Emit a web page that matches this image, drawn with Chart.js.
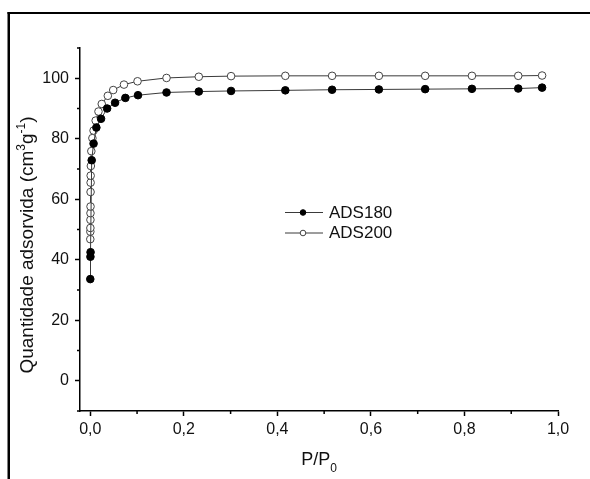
<!DOCTYPE html>
<html>
<head>
<meta charset="utf-8">
<script src="https://cdn.jsdelivr.net/npm/chart.js@4.4.0/dist/chart.umd.min.js"></script>
<style>
  html, body { margin: 0; padding: 0; background: #fff; }
  #wrap { width: 590px; height: 479px; }
</style>
</head>
<body>
<div id="wrap"><canvas id="isoterma" width="590" height="479"></canvas></div>
<script>
'use strict';

// --- Isotherm data: relative pressure P/P0 and adsorbed amount (cm3 g-1) ---
const ads180P = [0.0000, 0.0003, 0.0006, 0.0030, 0.0070, 0.0130, 0.0230, 0.0360, 0.0530, 0.0750,
                 0.1020, 0.1630, 0.2320, 0.3010, 0.4170, 0.5170, 0.6170, 0.7160, 0.8160, 0.9150, 0.9660];
const ads180Q = [33.6, 41.0, 42.5, 72.9, 78.4, 83.7, 86.6, 90.0, 91.9, 93.5,
                 94.4, 95.3, 95.6, 95.8, 96.0, 96.2, 96.3, 96.4, 96.5, 96.6, 96.9];

const ads200P = [0.0000, 0.0001, 0.0002, 0.0003, 0.0004, 0.0005, 0.0006, 0.0007, 0.0008, 0.0012,
                 0.0022, 0.0045, 0.0070, 0.0115, 0.0175, 0.0245, 0.0375, 0.0490, 0.0720, 0.1010,
                 0.1630, 0.2320, 0.3010, 0.4170, 0.5170, 0.6170, 0.7160, 0.8160, 0.9150, 0.9660];
const ads200Q = [46.8, 49.3, 50.5, 53.2, 55.4, 57.6, 62.4, 65.5, 67.8, 71.0,
                 75.9, 80.2, 82.7, 86.0, 89.0, 91.5, 94.2, 96.1, 97.9, 99.0,
                 100.1, 100.5, 100.7, 100.8, 100.8, 100.8, 100.8, 100.8, 100.8, 100.9];

const seriesNames = ['ADS180', 'ADS200'];

// Labelled (major) ticks and the short unlabelled ones between them
const xMajorTicks = [0, 0.2, 0.4, 0.6, 0.8, 1.0];
const xMinorTicks = [0.1, 0.3, 0.5, 0.7, 0.9];
const yMajorTicks = [0, 20, 40, 60, 80, 100];
const yMinorTicks = [-10, 10, 30, 50, 70, 90, 110];

const FONT = '"Liberation Sans", Arial, Helvetica, sans-serif';
const INK = '#111';

const toPoints = (xs, ys) => xs.map((x, i) => ({ x: x, y: ys[i] }));

// Draws a run of text pieces (for super/subscripts) centred on cx
function drawRuns(ctx, runs, cx, baseline) {
    let total = 0;
    runs.forEach(r => {
        ctx.font = r.size + 'px ' + FONT;
        r.w = ctx.measureText(r.text).width;
        total += r.w;
    });
    let x = cx - total / 2;
    runs.forEach(r => {
        ctx.font = r.size + 'px ' + FONT;
        ctx.fillText(r.text, x, baseline + (r.shift || 0));
        x += r.w;
    });
}

// Frame lines, minor ticks, axis titles and the inline legend
const decorations = {
    id: 'decorations',
    beforeDraw(chart) {
        const ctx = chart.ctx;
        ctx.save();
        ctx.fillStyle = '#fff';
        ctx.fillRect(0, 0, chart.width, chart.height);
        ctx.fillStyle = '#000';
        ctx.fillRect(7.5, 12, 2.5, chart.height - 12);
        ctx.fillRect(7.5, 12, chart.width - 7.5, 2);
        ctx.restore();
    },
    afterDraw(chart) {
        const { ctx, chartArea, scales } = chart;
        ctx.save();

        // minor ticks
        ctx.strokeStyle = '#000';
        ctx.lineWidth = 1.5;
        ctx.beginPath();
        xMinorTicks.forEach(v => {
            const px = scales.x.getPixelForValue(v);
            ctx.moveTo(px, chartArea.bottom);
            ctx.lineTo(px, chartArea.bottom + 3);
        });
        yMinorTicks.forEach(v => {
            const py = scales.y.getPixelForValue(v);
            ctx.moveTo(chartArea.left, py);
            ctx.lineTo(chartArea.left - 3, py);
        });
        ctx.stroke();

        // axis titles
        ctx.fillStyle = INK;
        ctx.textBaseline = 'alphabetic';
        ctx.textAlign = 'left';
        drawRuns(ctx, [
            { text: 'P/P', size: 18 },
            { text: '0', size: 12, shift: 7 }
        ], (chartArea.left + chartArea.right) / 2, 465);

        ctx.save();
        ctx.translate(33, 245);
        ctx.rotate(-Math.PI / 2);
        drawRuns(ctx, [
            { text: 'Quantidade adsorvida (cm', size: 19 },
            { text: '3', size: 12, shift: -8 },
            { text: 'g', size: 19 },
            { text: '-1', size: 12, shift: -8 },
            { text: ')', size: 19 }
        ], 0, 0);
        ctx.restore();

        // legend: short line with the series marker, then its name
        const rows = [212.5, 233];
        chart.data.datasets.forEach((ds, i) => {
            const y = rows[i];
            ctx.strokeStyle = ds.borderColor;
            ctx.lineWidth = 1;
            ctx.beginPath();
            ctx.moveTo(285, y);
            ctx.lineTo(323, y);
            ctx.stroke();
            ctx.beginPath();
            ctx.arc(303, y, 2.8, 0, Math.PI * 2);
            ctx.fillStyle = ds.pointBackgroundColor;
            ctx.fill();
            ctx.strokeStyle = ds.pointBorderColor;
            ctx.stroke();
            ctx.fillStyle = INK;
            ctx.font = '17px ' + FONT;
            ctx.textBaseline = 'middle';
            ctx.fillText(ds.label, 329, y + 0.5);
        });
        ctx.restore();
    }
};

const ctx = document.getElementById('isoterma').getContext('2d');

new Chart(ctx, {
    type: 'scatter',
    data: {
        datasets: [
            {
                label: seriesNames[0],
                data: toPoints(ads180P, ads180Q),
                showLine: true,
                borderColor: '#3a3a3a',
                borderWidth: 1,
                pointRadius: 3.8,
                pointBackgroundColor: '#000',
                pointBorderColor: '#000',
                pointBorderWidth: 1
            },
            {
                label: seriesNames[1],
                data: toPoints(ads200P, ads200Q),
                showLine: true,
                borderColor: '#3a3a3a',
                borderWidth: 1,
                pointRadius: 3.8,
                pointBackgroundColor: '#fff',
                pointBorderColor: '#444',
                pointBorderWidth: 1
            }
        ]
    },
    options: {
        responsive: false,
        animation: false,
        layout: { padding: { left: 0, right: 32, top: 48, bottom: 0 } },
        plugins: {
            legend: { display: false },
            tooltip: { enabled: false }
        },
        scales: {
            x: {
                type: 'linear',
                min: -0.022,
                max: 1.0,
                afterBuildTicks: (scale) => { scale.ticks = xMajorTicks.map(v => ({ value: v })); },
                afterFit: (scale) => { scale.height = 68; },
                border: { display: true, color: '#000', width: 1.5 },
                grid: { drawOnChartArea: false, drawTicks: true, tickLength: 5, tickColor: '#000', tickWidth: 1.5 },
                ticks: {
                    color: INK,
                    padding: 4,
                    maxRotation: 0,
                    font: { family: FONT, size: 16 },
                    callback: (v) => Number(v).toFixed(1).replace('.', ',')
                }
            },
            y: {
                type: 'linear',
                min: -10,
                max: 110,
                afterBuildTicks: (scale) => { scale.ticks = yMajorTicks.map(v => ({ value: v })); },
                afterFit: (scale) => { scale.width = 80; },
                border: { display: true, color: '#000', width: 1.5 },
                grid: { drawOnChartArea: false, drawTicks: true, tickLength: 5, tickColor: '#000', tickWidth: 1.5 },
                ticks: {
                    color: INK,
                    padding: 6,
                    font: { family: FONT, size: 16 },
                    callback: (v) => String(v)
                }
            }
        }
    },
    plugins: [decorations]
});
</script>
</body>
</html>
